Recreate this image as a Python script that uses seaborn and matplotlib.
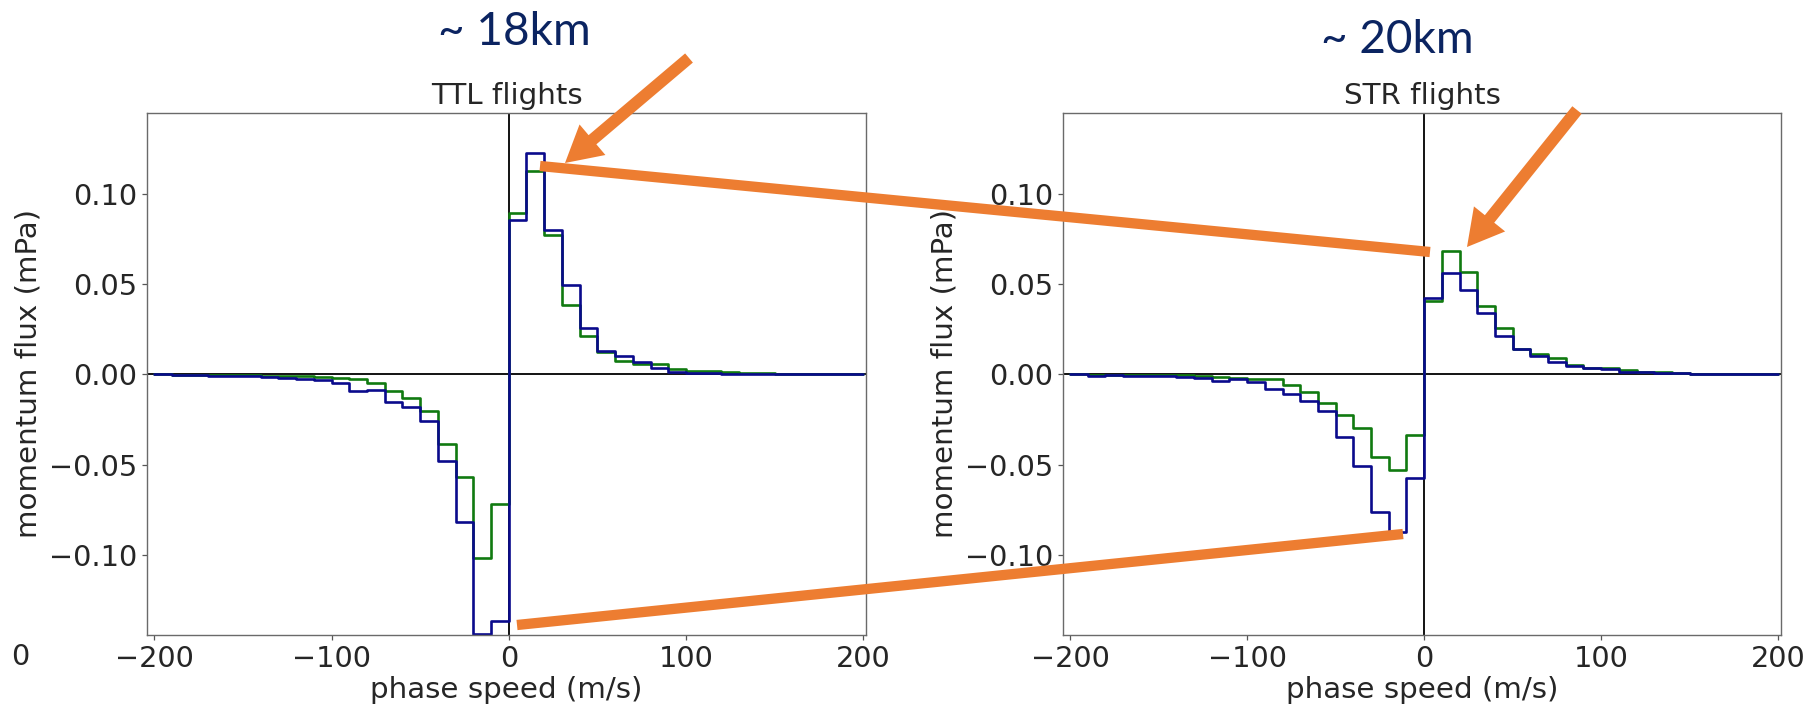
import numpy as np
import pandas as pd
import matplotlib
matplotlib.use("Agg")
import matplotlib.pyplot as plt
from matplotlib.lines import Line2D
from matplotlib.patches import FancyArrow
import seaborn as sns

# ---------------- data ----------------
phase_speed_edges = [-200, -190, -180, -170, -160, -150, -140, -130, -120, -110,
                     -100, -90, -80, -70, -60, -50, -40, -30, -20, -10,
                     0, 10, 20, 30, 40, 50, 60, 70, 80, 90,
                     100, 110, 120, 130, 140, 150, 160, 170, 180, 190, 200]

ttl_blue = [0.0, -0.0002, -0.0003, -0.0006, -0.0008, -0.0010, -0.0014, -0.0018, -0.0024, -0.0032,
            -0.0046, -0.0090, -0.0086, -0.0150, -0.0180, -0.0260, -0.0480, -0.0820, -0.1440, -0.1370,
            0.0858, 0.1230, 0.0800, 0.0494, 0.0258, 0.0131, 0.0101, 0.0069, 0.0037, 0.0013,
            0.0008, 0.0006, 0.0005, 0.0004, 0.0003, 0.0002, 0.0001, 0.0001, 0.0, 0.0]
ttl_green = [0.0, -0.0001, -0.0002, -0.0003, -0.0004, -0.0005, -0.0007, -0.0009, -0.0010, -0.0016,
             -0.0018, -0.0026, -0.0050, -0.0092, -0.0130, -0.0200, -0.0386, -0.0566, -0.1016, -0.0720,
             0.0894, 0.1127, 0.0773, 0.0388, 0.0216, 0.0125, 0.0075, 0.0060, 0.0060, 0.0030,
             0.0019, 0.0019, 0.0011, 0.0010, 0.0010, 0.0004, 0.0004, 0.0001, 0.0, 0.0]
str_blue = [0.0, -0.0006, -0.0004, -0.0008, -0.0008, -0.0010, -0.0012, -0.0020, -0.0034, -0.0026,
            -0.0044, -0.0078, -0.0106, -0.0146, -0.0202, -0.0344, -0.0510, -0.0760, -0.0876, -0.0576,
            0.0424, 0.0563, 0.0467, 0.0340, 0.0216, 0.0144, 0.0101, 0.0067, 0.0047, 0.0034,
            0.0030, 0.0013, 0.0011, 0.0008, 0.0006, 0.0004, 0.0003, 0.0002, 0.0001, 0.0]
str_green = [0.0, -0.0001, -0.0002, -0.0002, -0.0003, -0.0003, -0.0004, -0.0006, -0.0012, -0.0020,
             -0.0026, -0.0026, -0.0060, -0.0098, -0.0158, -0.0222, -0.0296, -0.0458, -0.0528, -0.0334,
             0.0409, 0.0686, 0.0569, 0.0380, 0.0256, 0.0142, 0.0112, 0.0090, 0.0050, 0.0037,
             0.0034, 0.0026, 0.0011, 0.0011, 0.0007, 0.0004, 0.0004, 0.0002, 0.0, 0.0]

panel_titles = ["TTL flights", "STR flights"]
altitude_labels = ["~ 18km", "~ 20km"]
x_ticks = [-200, -100, 0, 100, 200]
y_ticks = [-0.10, -0.05, 0.0, 0.05, 0.10]

# ---------------- style ----------------
sns.set_style("ticks")
plt.rcParams["font.family"] = ["DejaVu Sans"]
plt.rcParams["axes.unicode_minus"] = True

W, H = 1810, 708
fig = plt.figure(figsize=(W / 100, H / 100), dpi=100)

def fr(x0, y0, x1, y1):
    return [x0 / W, 1 - y1 / H, (x1 - x0) / W, (y1 - y0) / H]

ax_left = fig.add_axes(fr(147.3, 112.7, 866, 635))
ax_right = fig.add_axes(fr(1063, 112.7, 1781, 635))

FS_TICK = 20.7
FS_LAB = 21.2
panels = [(ttl_green, ttl_blue), (str_green, str_blue)]
for ax, (g, b), title in zip([ax_left, ax_right], panels, panel_titles):
    df = pd.DataFrame({
        "phase speed": phase_speed_edges * 2,
        "flux": list(g) + [g[-1]] + list(b) + [b[-1]],
        "series": ["green"] * len(phase_speed_edges) + ["blue"] * len(phase_speed_edges),
    })
    ax.axhline(0, color="black", lw=1.3, zorder=1.5)
    ax.axvline(0, color="black", lw=1.3, zorder=1.5)
    sns.lineplot(data=df, x="phase speed", y="flux", hue="series",
                 palette={"green": "#107a10", "blue": "#0a0a8c"},
                 drawstyle="steps-post", lw=1.9, estimator=None, errorbar=None,
                 sort=False, legend=False, ax=ax, zorder=2)
    ax.set_xlim(-204, 201.6)
    ax.set_ylim(-0.1445, 0.1452)
    ax.set_xticks(x_ticks)
    ax.set_yticks(y_ticks)
    ax.set_yticklabels([f"{v:.2f}".replace("-", "\u2212") for v in y_ticks])
    ax.tick_params(labelsize=FS_TICK, length=3.5, width=0.9, color="#555555")
    for s in ax.spines.values():
        s.set_color("#6a6a6a")
        s.set_linewidth(1.0)
    ax.set_xlabel("phase speed (m/s)", fontsize=FS_LAB, labelpad=2)
    ax.set_ylabel("momentum flux (mPa)", fontsize=FS_LAB, labelpad=5)
    ax.set_title(title, fontsize=FS_LAB, pad=6)

# big altitude labels
fig.text(514 / W, 1 - 45 / H, altitude_labels[0], fontsize=33, color="#0b2461",
         family=["Lato", "DejaVu Sans"], ha="center", va="baseline")
fig.text(1397 / W, 1 - 53 / H, altitude_labels[1], fontsize=33, color="#0b2461",
         family=["Lato", "DejaVu Sans"], ha="center", va="baseline")

# leftover tick label at far left
fig.text(20 / W, 1 - 657 / H, "0", fontsize=FS_TICK, ha="center", va="center")

# orange annotations (pixel coordinates, y from top)
ORANGE = "#ED7D31"
def inch(x, y):
    return x / 100, (H - y) / 100

for (p0, p1) in [((540, 166), (1430, 252)), ((517, 625), (1403, 534))]:
    (x0, y0), (x1, y1) = inch(*p0), inch(*p1)
    fig.add_artist(Line2D([x0, x1], [y0, y1], transform=fig.dpi_scale_trans,
                          color=ORANGE, lw=7.4, solid_capstyle="butt", zorder=10))

for (tail, tip) in [((689, 58), (565, 163)), ((1577, 110), (1467, 247))]:
    (x0, y0), (x1, y1) = inch(*tail), inch(*tip)
    fig.add_artist(FancyArrow(x0, y0, x1 - x0, y1 - y0, width=0.12,
                              head_width=0.40, head_length=0.36,
                              length_includes_head=True, color=ORANGE, lw=0,
                              transform=fig.dpi_scale_trans, zorder=10))

fig.savefig("out.png", dpi=100)
